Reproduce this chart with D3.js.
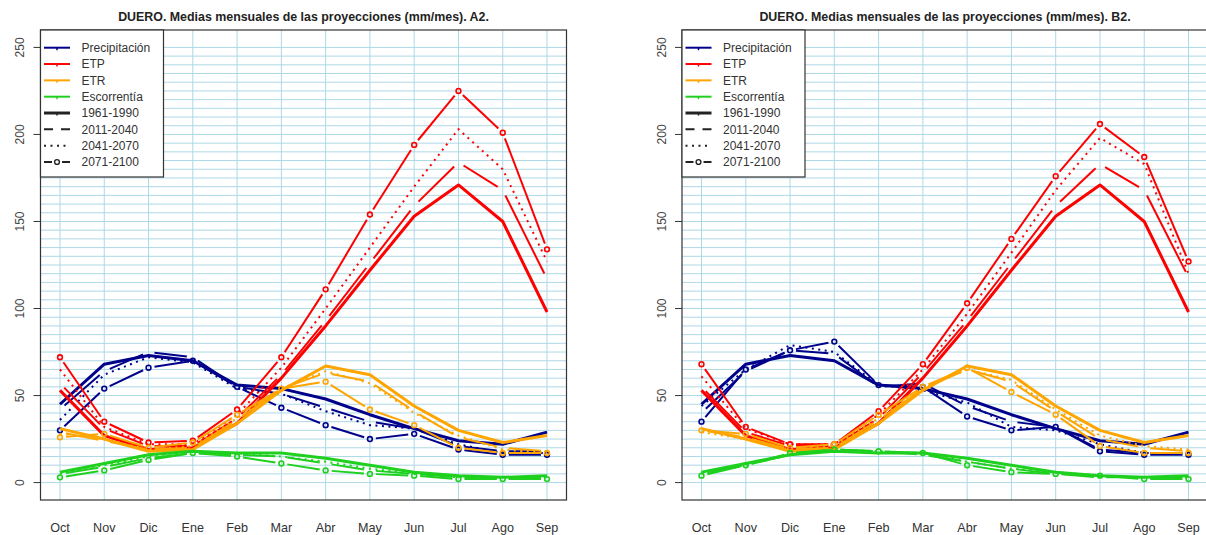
<!DOCTYPE html>
<html>
<head>
<meta charset="utf-8">
<script src="https://cdn.jsdelivr.net/npm/d3@7"></script>
<style>
  body { margin: 0; background: #ffffff; }
  text { font-family: 'Liberation Sans', Arial, sans-serif; }
</style>
</head>
<body>
<div id="chart"></div>
<script>
const months = ['Oct', 'Nov', 'Dic', 'Ene', 'Feb', 'Mar', 'Abr', 'May', 'Jun', 'Jul', 'Ago', 'Sep'];
const variables = ['Precipitación', 'ETP', 'ETR', 'Escorrentía'];
const periods = ['1961-1990', '2011-2040', '2041-2070', '2071-2100'];
const yTicks = [0, 50, 100, 150, 200, 250];

// control period, shared by both scenarios
const precip1961 = [45, 68, 73, 70, 56, 54, 48, 39, 31, 24, 22, 29];
const etp1961    = [53, 27, 19, 20, 34, 60, 90, 122, 153, 171, 150, 98];
const etr1961    = [31, 25, 18, 19, 34, 53, 67, 62, 44, 30, 23, 27];
const esc1961    = [6, 11, 16, 18, 17, 17, 14, 10, 6, 4, 3, 4];

// scenario A2
const precipA2_2011 = [42, 64, 75, 72, 55, 51, 43, 35, 31, 21, 18, 18];
const precipA2_2041 = [36, 62, 72, 69, 54, 51, 41, 33, 31, 22, 17, 17];
const precipA2_2071 = [30, 54, 66, 70, 55, 43, 33, 25, 28, 19, 16, 16];
const etpA2_2011    = [57, 31, 21, 21, 37, 62, 93, 126, 159, 184, 168, 117];
const etpA2_2041    = [65, 32, 22, 22, 39, 66, 100, 135, 170, 203, 180, 127];
const etpA2_2071    = [72, 35, 23, 24, 42, 72, 111, 154, 194, 225, 201, 134];
const etrA2_2011    = [29, 24, 19, 20, 36, 54, 63, 58, 41, 26, 20, 18];
const etrA2_2041    = [28, 25, 19, 21, 37, 54, 64, 57, 40, 27, 19, 17];
const etrA2_2071    = [26, 28, 20, 23, 39, 54, 58, 42, 33, 20, 17, 17];
const escA2_2011    = [5, 9, 14, 17, 16, 15, 11, 7, 5, 3, 2, 3];
const escA2_2041    = [5, 10, 15, 18, 17, 15, 12, 8, 5, 3, 3, 3];
const escA2_2071    = [3, 7, 13, 17, 15, 11, 7, 5, 4, 2, 2, 2];

// scenario B2
const precipB2_2011 = [40, 64, 76, 74, 55, 57, 44, 35, 32, 19, 17, 17];
const precipB2_2041 = [44, 65, 79, 75, 56, 53, 46, 32, 30, 22, 17, 17];
const precipB2_2071 = [35, 65, 76, 81, 56, 55, 38, 30, 32, 18, 16, 16];
const etpB2_2011    = [55, 29, 21, 21, 37, 63, 93, 126, 159, 183, 168, 118];
const etpB2_2041    = [61, 31, 22, 22, 39, 65, 97, 132, 168, 198, 183, 120];
const etpB2_2071    = [68, 32, 22, 22, 41, 68, 103, 140, 176, 206, 187, 127];
const etrB2_2011    = [30, 26, 19, 20, 36, 54, 65, 58, 41, 25, 20, 18];
const etrB2_2041    = [29, 25, 19, 21, 37, 54, 65, 59, 42, 27, 21, 19];
const etrB2_2071    = [30, 28, 20, 22, 39, 55, 66, 52, 39, 21, 17, 17];
const escB2_2011    = [5, 10, 16, 19, 18, 16, 12, 8, 5, 3, 3, 3];
const escB2_2041    = [5, 10, 16, 19, 18, 17, 12, 8, 6, 4, 3, 3];
const escB2_2071    = [4, 10, 17, 19, 18, 17, 10, 6, 5, 4, 2, 2];

const colors = ['#00008b', '#ff0000', '#ffa500', '#1fd01f'];

const panels = [
  { title: 'DUERO. Medias mensuales de las proyecciones (mm/mes). A2.', left: 40.5,
    series: [
      [precip1961, precipA2_2011, precipA2_2041, precipA2_2071],
      [etp1961, etpA2_2011, etpA2_2041, etpA2_2071],
      [etr1961, etrA2_2011, etrA2_2041, etrA2_2071],
      [esc1961, escA2_2011, escA2_2041, escA2_2071]
    ] },
  { title: 'DUERO. Medias mensuales de las proyecciones (mm/mes). B2.', left: 682,
    series: [
      [precip1961, precipB2_2011, precipB2_2041, precipB2_2071],
      [etp1961, etpB2_2011, etpB2_2041, etpB2_2071],
      [etr1961, etrB2_2011, etrB2_2041, etrB2_2071],
      [esc1961, escB2_2011, escB2_2041, escB2_2071]
    ] }
];

const plotW = 526, plotTop = 30, plotBottom = 500;
const frameColor = '#333333', gridColor = '#add8e6';

const svg = d3.select('#chart').append('svg')
    .attr('width', 1206)
    .attr('height', 535);

// R style: axis ranges padded by 4%
const xScale = d3.scaleLinear().domain([-0.44, 11.44]).range([0, plotW]);
const yScale = d3.scaleLinear().domain([-10, 260]).range([plotBottom, plotTop]);

const line = d3.line()
    .x(function(d, i) { return xScale(i); })
    .y(function(d) { return yScale(d); });

// segments between consecutive points, trimmed so they stop short of the points
function gapSegments(values, gap) {
  const segs = [];
  for (let i = 0; i < values.length - 1; i++) {
    const x0 = xScale(i), y0 = yScale(values[i]),
          x1 = xScale(i + 1), y1 = yScale(values[i + 1]);
    const len = Math.hypot(x1 - x0, y1 - y0);
    if (len <= 2 * gap) continue;
    const ux = (x1 - x0) / len, uy = (y1 - y0) / len;
    segs.push([x0 + ux * gap, y0 + uy * gap, x1 - ux * gap, y1 - uy * gap]);
  }
  return segs;
}

panels.forEach(function(panel) {
  const g = svg.append('g')
      .attr('transform', 'translate(' + panel.left + ',0)');

  g.append('text')
      .attr('x', plotW / 2)
      .attr('y', 21)
      .attr('text-anchor', 'middle')
      .style('font-size', '12.4px')
      .style('font-weight', 'bold')
      .style('fill', '#222')
      .text(panel.title);

  // grid
  g.selectAll('.vgrid')
      .data(months)
    .enter().append('line')
      .attr('x1', function(d, i) { return xScale(i); })
      .attr('x2', function(d, i) { return xScale(i); })
      .attr('y1', plotTop).attr('y2', plotBottom)
      .attr('stroke', gridColor)
      .attr('stroke-width', 1);

  g.selectAll('.hgrid')
      .data(d3.range(0, 251, 5))
    .enter().append('line')
      .attr('x1', 0).attr('x2', plotW)
      .attr('y1', function(d) { return yScale(d); })
      .attr('y2', function(d) { return yScale(d); })
      .attr('stroke', gridColor)
      .attr('stroke-width', 1);

  // y axis ticks and labels
  g.selectAll('.ytick')
      .data(yTicks)
    .enter().append('line')
      .attr('x1', -7).attr('x2', 0)
      .attr('y1', function(d) { return yScale(d); })
      .attr('y2', function(d) { return yScale(d); })
      .attr('stroke', frameColor);

  g.selectAll('.ylabel')
      .data(yTicks)
    .enter().append('text')
      .attr('transform', function(d) { return 'translate(-16.5,' + yScale(d) + ') rotate(-90)'; })
      .attr('text-anchor', 'middle')
      .style('font-size', '12px')
      .style('fill', '#444')
      .text(function(d) { return d; });

  g.selectAll('.xlabel')
      .data(months)
    .enter().append('text')
      .attr('x', function(d, i) { return xScale(i); })
      .attr('y', 531.5)
      .attr('text-anchor', 'middle')
      .style('font-size', '12.6px')
      .style('fill', '#333')
      .text(function(d) { return d; });

  // series
  panel.series.forEach(function(group, v) {
    const col = colors[v];

    g.append('path')
        .datum(group[0])
        .attr('fill', 'none')
        .attr('stroke', col)
        .attr('stroke-width', 3)
        .attr('stroke-linejoin', 'round')
        .attr('d', line);

    g.selectAll('.dash' + v)
        .data(gapSegments(group[1], 6))
      .enter().append('line')
        .attr('x1', function(d) { return d[0]; })
        .attr('y1', function(d) { return d[1]; })
        .attr('x2', function(d) { return d[2]; })
        .attr('y2', function(d) { return d[3]; })
        .attr('stroke', col)
        .attr('stroke-width', 2);

    g.append('path')
        .datum(group[2])
        .attr('fill', 'none')
        .attr('stroke', col)
        .attr('stroke-width', 2)
        .attr('stroke-dasharray', '2,4.5')
        .attr('d', line);

    g.selectAll('.seg' + v)
        .data(gapSegments(group[3], 6))
      .enter().append('line')
        .attr('x1', function(d) { return d[0]; })
        .attr('y1', function(d) { return d[1]; })
        .attr('x2', function(d) { return d[2]; })
        .attr('y2', function(d) { return d[3]; })
        .attr('stroke', col)
        .attr('stroke-width', 2);

    g.selectAll('.pt' + v)
        .data(group[3])
      .enter().append('circle')
        .attr('cx', function(d, i) { return xScale(i); })
        .attr('cy', function(d) { return yScale(d); })
        .attr('r', 2.4)
        .attr('fill', 'none')
        .attr('stroke', col)
        .attr('stroke-width', 1.6);
  });

  // frame
  g.append('rect')
      .attr('x', 0).attr('y', plotTop)
      .attr('width', plotW).attr('height', plotBottom - plotTop)
      .attr('fill', 'none')
      .attr('stroke', frameColor)
      .attr('stroke-width', 1.2);

  // legend
  const legend = g.append('g');
  legend.append('rect')
      .attr('x', 0).attr('y', plotTop)
      .attr('width', 123).attr('height', 147)
      .attr('fill', '#ffffff')
      .attr('stroke', frameColor)
      .attr('stroke-width', 1.2);

  const entries = variables.map(function(name, i) { return { name: name, color: colors[i], kind: 'solid' }; })
      .concat(periods.map(function(name, i) {
        return { name: name, color: '#222', kind: ['thick', 'dashed', 'dotted', 'points'][i] };
      }));

  const rows = legend.selectAll('.row')
      .data(entries)
    .enter().append('g')
      .attr('transform', function(d, i) { return 'translate(0,' + (47.7 + i * 16.33) + ')'; });

  rows.filter(function(d) { return d.kind !== 'points'; })
    .append('line')
      .attr('x1', 3.5).attr('x2', 29.5)
      .attr('y1', 0).attr('y2', 0)
      .attr('stroke', function(d) { return d.color; })
      .attr('stroke-width', function(d) { return d.kind === 'thick' ? 3 : 2; })
      .attr('stroke-dasharray', function(d) {
        return d.kind === 'dashed' ? '9,8' : d.kind === 'dotted' ? '2,4.5' : null;
      });

  rows.filter(function(d) { return d.kind === 'solid' || d.kind === 'thick'; })
    .append('line')
      .attr('x1', 16.5).attr('x2', 16.5)
      .attr('y1', 0).attr('y2', 2.5)
      .attr('stroke', function(d) { return d.color; })
      .attr('stroke-width', 1.5);

  const pts = rows.filter(function(d) { return d.kind === 'points'; });
  pts.append('line').attr('x1', 3.5).attr('x2', 11.5).attr('y1', 0).attr('y2', 0)
      .attr('stroke', '#222').attr('stroke-width', 2);
  pts.append('line').attr('x1', 21.5).attr('x2', 29.5).attr('y1', 0).attr('y2', 0)
      .attr('stroke', '#222').attr('stroke-width', 2);
  pts.append('circle').attr('cx', 16.5).attr('cy', 0).attr('r', 2.4)
      .attr('fill', 'none').attr('stroke', '#222').attr('stroke-width', 1.4);

  rows.append('text')
      .attr('x', 41)
      .attr('y', 4.3)
      .style('font-size', '12px')
      .style('fill', '#333')
      .text(function(d) { return d.name; });
});
</script>
</body>
</html>
